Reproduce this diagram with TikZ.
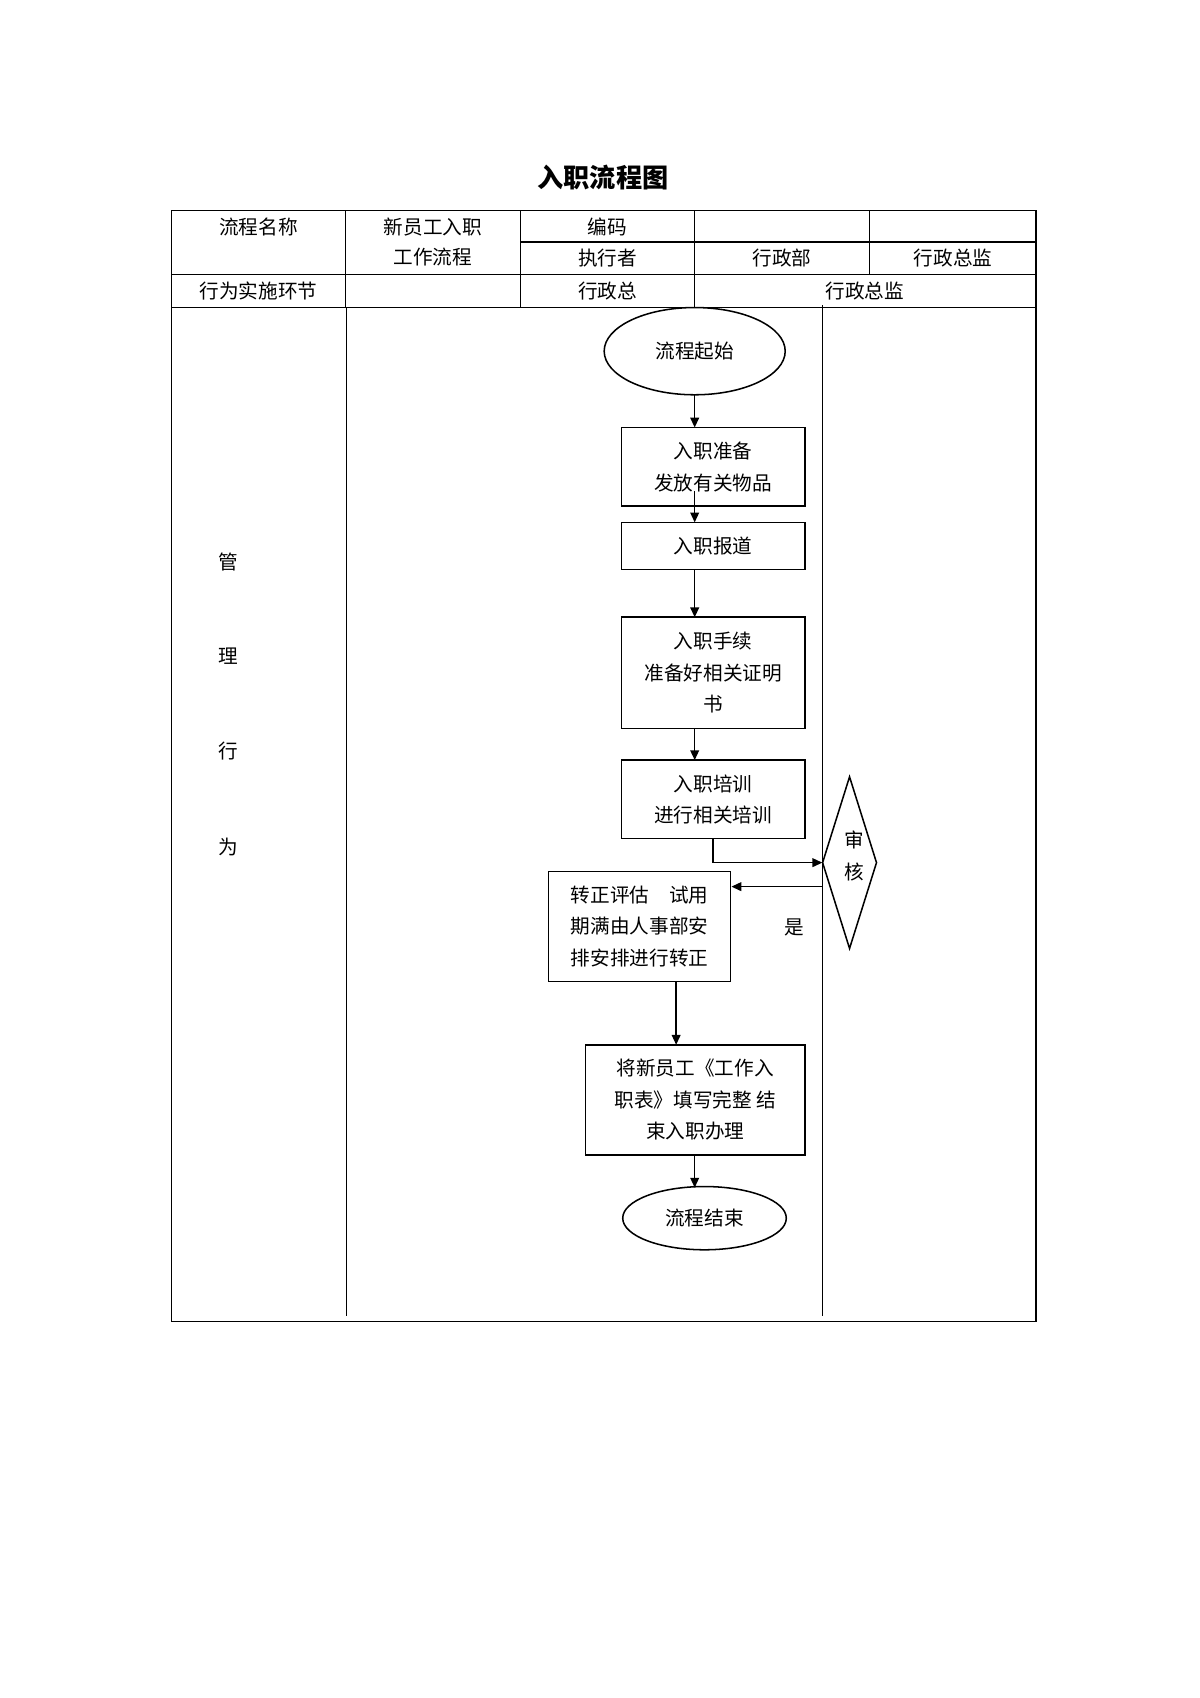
\documentclass[tikz,border=0pt]{standalone}
\usepackage{fontspec}
\setmainfont{Noto Sans CJK SC}
\usetikzlibrary{shapes.geometric,arrows.meta}
\begin{document}
\begin{tikzpicture}[x=1pt,y=-1pt,
 ln/.style={line width=1.2pt},
 box/.style={draw,line width=1.4pt,rectangle,align=center,font=\fontsize{18}{29}\selectfont,inner sep=0},
 txt/.style={font=\fontsize{18}{22}\selectfont,inner sep=0},
 arr/.style={line width=1.4pt,-{Triangle[length=9pt,width=8pt]}}]
\useasboundingbox (0,0) rectangle (1100,1557);
\node[font=\bfseries\fontsize{24}{28}\selectfont] (title) at (553,163) {入职流程图};
% table
\draw[ln] (157,193) rectangle (950,1212);
\draw[ln] (157,252) -- (950,252) (157,282) -- (950,282) (477,222) -- (950,222);
\draw[ln] (317,193) -- (317,282) (477,193) -- (477,282) (637,193) -- (637,282) (797,193) -- (797,252);
\draw[ln] (318,282) -- (318,1207) (754,280) -- (754,1207);
\node[txt] (a) at (237,208) {流程名称};
\node[txt] (b1) at (397,208) {新员工入职};
\node[txt] (b2) at (397,236) {工作流程};
\node[txt] (c) at (557,208) {编码};
\node[txt] (d) at (557,237) {执行者};
\node[txt] (e) at (717,237) {行政部};
\node[txt] (f) at (874,237) {行政总监};
\node[txt] (g) at (237,267) {行为实施环节};
\node[txt] (h) at (557,267) {行政总};
\node[txt] (i) at (793,267) {行政总监};
\node[txt] (l1) at (209,515) {管};
\node[txt] (l2) at (209,602) {理};
\node[txt] (l3) at (209,689) {行};
\node[txt] (l4) at (209,777) {为};
% flow
\node[draw,line width=1.4pt,ellipse,minimum width=166pt,minimum height=80pt,txt] (s) at (637,322) {流程起始};
\node[box,minimum width=168pt,minimum height=72pt] (b1x) at (654,428) {入职准备\\发放有关物品};
\node[box,minimum width=168pt,minimum height=43pt] (b2x) at (654,500.5) {入职报道};
\node[box,minimum width=168pt,minimum height=102pt] (b3x) at (654,617) {入职手续\\准备好相关证明\\书};
\node[box,minimum width=168pt,minimum height=72pt] (b4x) at (654,733) {入职培训\\进行相关培训};
\node[draw,line width=1.4pt,diamond,minimum width=50pt,minimum height=158pt,inner sep=0,aspect=0.3] (dm) at (779,791) {};
\node[txt,align=center] (dmt) at (783,785) {审\\[8pt]核};
\node[box,minimum width=167pt,minimum height=101pt] (b5x) at (586.5,849.5) {转正评估\quad 试用\\期满由人事部安\\排安排进行转正};
\node[txt] (yes) at (728,850) {是};
\node[box,minimum width=201pt,minimum height=101pt] (b6x) at (637.5,1008.5) {将新员工《工作入\\职表》填写完整\ 结\\束入职办理};
\node[draw,line width=1.4pt,ellipse,minimum width=150pt,minimum height=58pt,txt] (en) at (646,1117) {流程结束};
\coordinate (t1) at (754,791);
\coordinate (t2) at (754,813);
\draw[arr] (637,362) -- (637,392);
\draw[arr] (637,450) -- (637,479);
\draw[arr] (637,522) -- (637,566);
\draw[arr] (637,668) -- (637,697);
\draw[arr] (654,769) |- (t1);
\draw[arr] (t2) -- (b5x.east |- t2);
\draw[arr] (620,900) -- (620,958);
\draw[arr] (637,1059) -- (637,1089);
\end{tikzpicture}
\end{document}
